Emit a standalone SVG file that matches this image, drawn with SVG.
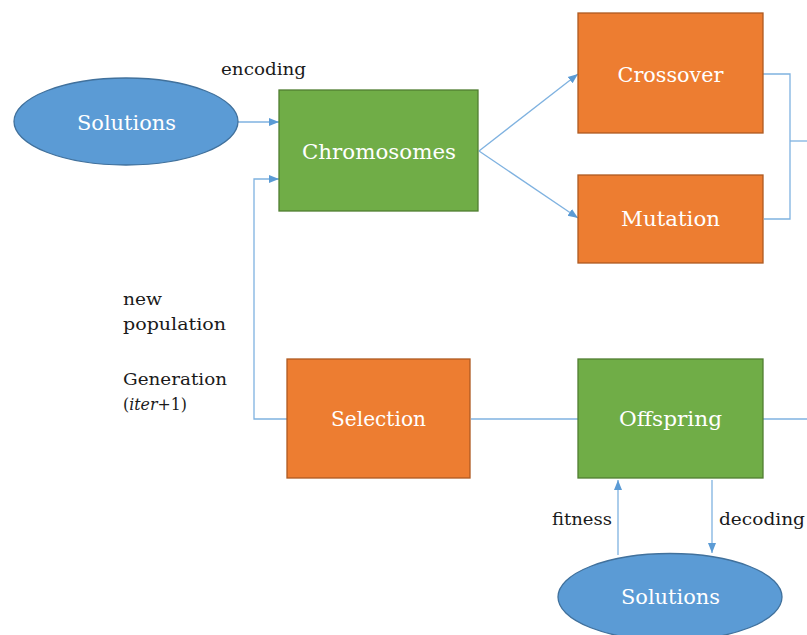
<svg xmlns="http://www.w3.org/2000/svg" width="807" height="635" viewBox="0 0 807 635">
  <defs>
    <marker id="arrow" viewBox="0 0 10 10" refX="10" refY="5" markerWidth="10" markerHeight="10" markerUnits="userSpaceOnUse" orient="auto">
      <path d="M0,1 L10,5 L0,9 Z" fill="#5B9BD5"/>
    </marker>
    <style>
      .ell { fill: #5B9BD5; stroke: #41719C; stroke-width: 1.3; }
      .green { fill: #70AD47; stroke: #507E32; stroke-width: 1.3; }
      .orange { fill: #ED7D31; stroke: #AE5A21; stroke-width: 1.3; }
      .node-label { font-family: "DejaVu Serif", "Liberation Serif", serif; font-size: 21px; fill: #FFFFFF; }
      .label { font-family: "DejaVu Serif", "Liberation Serif", serif; font-size: 17px; fill: #1a1a1a; }
      .conn { fill: none; stroke: #7FB2E0; stroke-width: 1.3; }
    </style>
  </defs>
  <rect width="807" height="635" fill="#FFFFFF"/>

  <!-- connectors -->
  <g id="connectors">
    <line class="conn" x1="238" y1="122" x2="279" y2="122" marker-end="url(#arrow)"/>
    <polyline class="conn" points="287,419 254,419 254,179 279,179" marker-end="url(#arrow)"/>
    <line class="conn" x1="479" y1="151" x2="578" y2="74" marker-end="url(#arrow)"/>
    <line class="conn" x1="479" y1="151" x2="578" y2="218" marker-end="url(#arrow)"/>
    <polyline class="conn" points="763,74 790,74 790,219 764,219"/>
    <line class="conn" x1="790" y1="141" x2="807" y2="141"/>
    <line class="conn" x1="471" y1="419" x2="578" y2="419"/>
    <line class="conn" x1="763" y1="419" x2="807" y2="419"/>
    <line class="conn" x1="618" y1="555" x2="618" y2="480" marker-end="url(#arrow)"/>
    <line class="conn" x1="712" y1="480" x2="712" y2="553" marker-end="url(#arrow)"/>
  </g>

  <!-- nodes -->
  <g id="solutions-top">
    <ellipse class="ell" cx="126" cy="121.5" rx="112" ry="43.5"/>
    <text class="node-label" x="126.5" y="129.5" text-anchor="middle" textLength="99" lengthAdjust="spacingAndGlyphs">Solutions</text>
  </g>
  <g id="chromosomes">
    <rect class="green" x="279" y="90" width="199" height="121"/>
    <text class="node-label" x="379" y="158.5" text-anchor="middle" textLength="154" lengthAdjust="spacingAndGlyphs">Chromosomes</text>
  </g>
  <g id="crossover">
    <rect class="orange" x="578" y="13" width="185" height="120"/>
    <text class="node-label" x="670.5" y="81.5" text-anchor="middle" textLength="106" lengthAdjust="spacingAndGlyphs">Crossover</text>
  </g>
  <g id="mutation">
    <rect class="orange" x="578" y="175" width="185" height="88"/>
    <text class="node-label" x="670.5" y="226" text-anchor="middle" textLength="99" lengthAdjust="spacingAndGlyphs">Mutation</text>
  </g>
  <g id="selection">
    <rect class="orange" x="287" y="359" width="183" height="119"/>
    <text class="node-label" x="378.5" y="426" text-anchor="middle" textLength="95" lengthAdjust="spacingAndGlyphs">Selection</text>
  </g>
  <g id="offspring">
    <rect class="green" x="578" y="359" width="185" height="119"/>
    <text class="node-label" x="670.5" y="426" text-anchor="middle" textLength="103" lengthAdjust="spacingAndGlyphs">Offspring</text>
  </g>
  <g id="solutions-bottom">
    <ellipse class="ell" cx="670" cy="597" rx="112" ry="43.5"/>
    <text class="node-label" x="670.5" y="603.5" text-anchor="middle" textLength="99" lengthAdjust="spacingAndGlyphs">Solutions</text>
  </g>

  <!-- edge labels -->
  <g id="labels">
    <text class="label" x="221" y="75" textLength="85" lengthAdjust="spacingAndGlyphs">encoding</text>
    <text class="label" x="123" y="304.5" textLength="39" lengthAdjust="spacingAndGlyphs">new</text>
    <text class="label" x="123" y="330" textLength="103" lengthAdjust="spacingAndGlyphs">population</text>
    <text class="label" x="123" y="384.5" textLength="104" lengthAdjust="spacingAndGlyphs">Generation</text>
    <text class="label" x="123" y="410" textLength="64" lengthAdjust="spacingAndGlyphs">(<tspan font-style="italic">iter</tspan>+1)</text>
    <text class="label" x="552" y="525" textLength="60" lengthAdjust="spacingAndGlyphs">fitness</text>
    <text class="label" x="719" y="525" textLength="86" lengthAdjust="spacingAndGlyphs">decoding</text>
  </g>
</svg>
